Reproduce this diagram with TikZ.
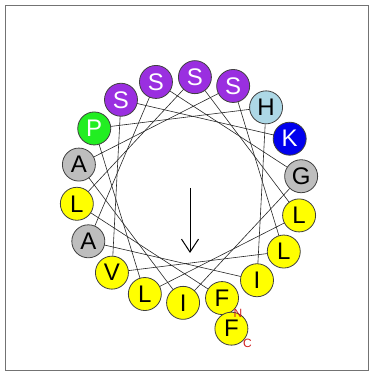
\documentclass[tikz,border=0pt]{standalone}
\usepackage{fontspec}
\setmainfont{Liberation Sans}
\usetikzlibrary{calc,arrows.meta,backgrounds}
\definecolor{resY}{HTML}{FFFF00}
\definecolor{resS}{HTML}{9A2FE0}
\definecolor{resP}{HTML}{22EE22}
\definecolor{resG}{HTML}{BEBEBE}
\definecolor{resH}{HTML}{ADD8E6}
\definecolor{resK}{HTML}{0000EE}
\definecolor{termred}{HTML}{D02020}

\begin{document}
\begin{tikzpicture}[>=Latex,x=1pt,y=1pt,
    res/.style={circle,draw=black!75,line width=0.8pt,minimum size=33pt,
                inner sep=0pt,font=\fontsize{24}{24}\selectfont},
    link/.style={black!85,line width=0.6pt},
    term/.style={termred,inner sep=0pt,font=\fontsize{12}{12}\selectfont}]
  \useasboundingbox (0,0) rectangle (370,372);
  \draw[black!55,line width=1.6pt] (5.5,1.5) rectangle (368.5,366.5);
  % wheel centre; residue i sits at -73 - 100(i-1) degrees,
  % the 19th goes on a second, wider turn
  \coordinate (C) at (189,182);
  \foreach \aa/\col/\txt [count=\i] in
     {F/resY/black, L/resY/black, S/resS/white, L/resY/black, L/resY/black,
      P/resP/white, H/resH/black, I/resY/black, A/resG/black, S/resS/white,
      G/resG/black, I/resY/black, A/resG/black, S/resS/white, L/resY/black,
      V/resY/black, S/resS/white, K/resK/white, F/resY/black}{
    \pgfmathsetmacro{\ang}{-73-100*(\i-1)}
    \pgfmathsetmacro{\rad}{113+32*(\i>18)}
    \node[res,fill=\col,text=\txt] (r\i) at ([shift={(\ang:\rad)}]C) {\aa};
  }
  % helix backbone, behind the residues
  \begin{pgfonlayer}{background}
    \foreach \i [evaluate=\i as \j using int(\i+1)] in {1,...,17}
      \draw[link] (r\i.center) -- (r\j.center);
  \end{pgfonlayer}
  % N and C termini
  \node[term] (nterm) at ([shift={(16,-15)}]r1.center) {N};
  \node[term] (cterm) at ([shift={(16,-15)}]r19.center) {C};
  % hydrophobic moment
  \coordinate (mtail) at ($(C)+(1,2)$);
  \coordinate (mhead) at ($(C)+(1,-63)$);
  \draw[-{Straight Barb[length=13pt,width=17pt]},line width=1pt] (mtail) -- (mhead);
\end{tikzpicture}
\end{document}
